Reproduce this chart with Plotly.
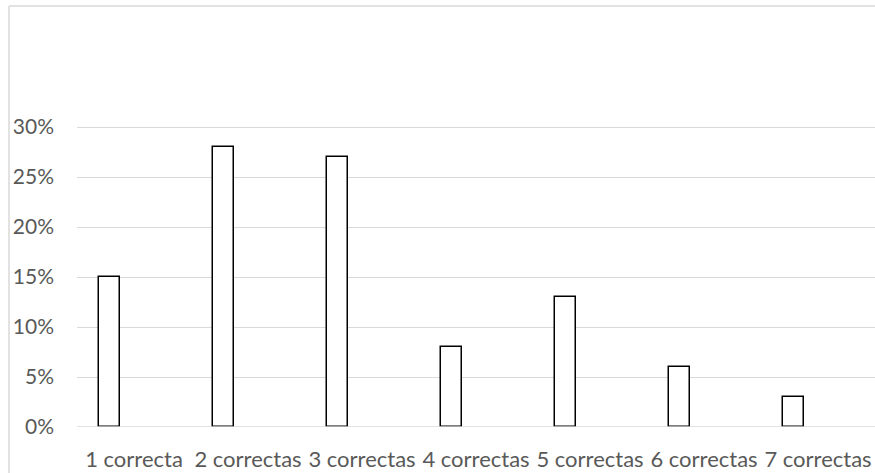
import plotly.graph_objects as go

categories = ["1 correcta", "2 correctas", "3 correctas", "4 correctas",
              "5 correctas", "6 correctas", "7 correctas"]
values = [0.15, 0.28, 0.27, 0.08, 0.13, 0.06, 0.03]
tick_vals = [0, 0.05, 0.10, 0.15, 0.20, 0.25, 0.30]
tick_text = ["0%", "5%", "10%", "15%", "20%", "25%", "30%"]

W, H = 875, 473
L, R, B = 77, 0, 46
ymax = 0.305
ph = int(round(ymax * 1000))          # 10 px per percent
T = H - B - ph
pw = W - L - R

grid = "#d9d9d9"
fig = go.Figure()
fig.add_trace(go.Bar(
    x=categories, y=values,
    width=0.184, offset=-0.31,
    marker=dict(color="white", line=dict(color="black", width=1.5)),
))

fig.update_layout(
    width=W, height=H,
    margin=dict(l=L, r=R, t=T, b=B, pad=0, autoexpand=False),
    paper_bgcolor="white", plot_bgcolor="white",
    showlegend=False,
    font=dict(family="Lato", size=21, color="#595959"),
    xaxis=dict(showgrid=False, showline=False, ticks="", automargin=False,
               ticklabelstandoff=17, range=[-0.5, 6.5], tickfont=dict(size=22)),
    yaxis=dict(range=[0, ymax], tickvals=tick_vals, ticktext=tick_text, automargin=False,
               showgrid=True, gridcolor=grid, gridwidth=1, zeroline=False,
               showline=False, ticks="", ticklabelstandoff=22),
    bargap=0,
)

def py(pix):
    return (H - B - pix) / ph

def px(pix):
    return (pix - L) / pw

# outer chart border (left and top visible in the crop)
fig.add_shape(type="line", xref="paper", yref="paper",
              x0=px(9), x1=px(9), y0=py(H + 5), y1=py(6),
              line=dict(color=grid, width=1.5))
fig.add_shape(type="line", xref="paper", yref="paper",
              x0=px(9), x1=px(W + 5), y0=py(6), y1=py(6),
              line=dict(color=grid, width=1.5))
# axis line drawn over bar bottoms
fig.add_shape(type="line", xref="paper", yref="y", x0=0, x1=1, y0=0, y1=0,
              line=dict(color=grid, width=1.5), layer="above")

fig.write_html("out.html", config={"displayModeBar": False},
               post_script=("document.body.style.margin='0';document.body.style.padding='0';"
                            "document.body.style.overflow='hidden';"
                            "document.documentElement.style.overflow='hidden';"))
